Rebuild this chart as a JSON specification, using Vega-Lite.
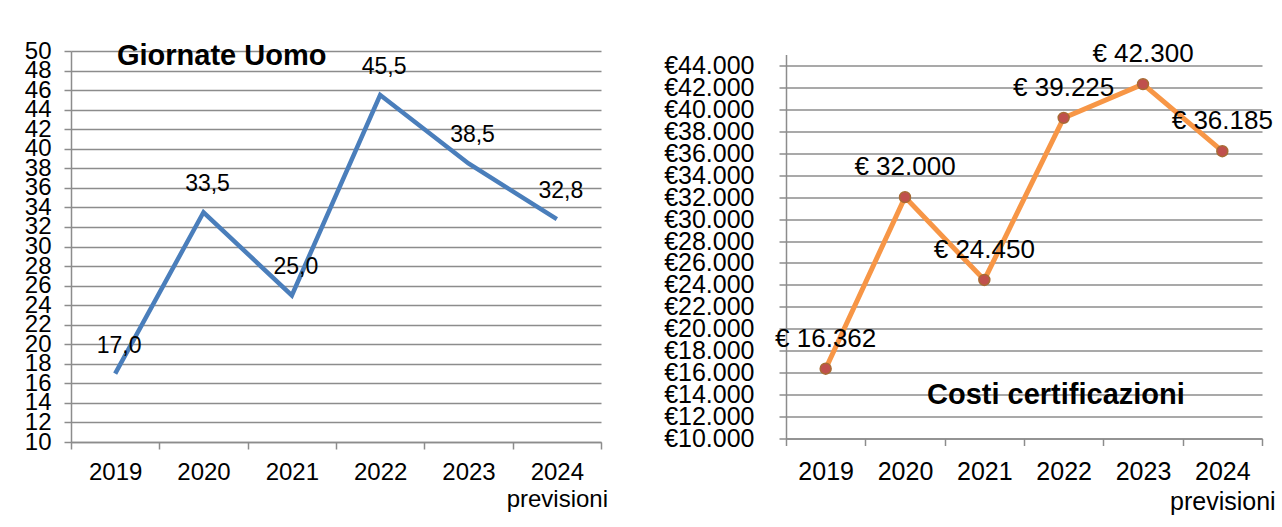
{
  "$schema": "https://vega.github.io/schema/vega-lite/v6.json",
  "padding": {"left": 24, "top": 39, "right": 5, "bottom": 5},
  "background": "white",
  "bounds": "flush",
  "center": true,
  "spacing": 185,
  "config": {
    "locale": {"number": {"decimal": ",", "thousands": ".", "grouping": [3], "currency": ["€ ", ""]}},
    "view": {"stroke": null},
    "font": "Liberation Sans",
    "axis": {
      "gridColor": "#8c8c8c", "gridWidth": 1.5,
      "domainColor": "#8c8c8c", "domainWidth": 1.5,
      "tickColor": "#8c8c8c", "tickWidth": 1.5, "tickSize": 7,
      "labelColor": "black", "labelFont": "Liberation Sans", "title": null
    }
  },
  "hconcat": [
    {
      "width": 530,
      "height": 391,
      "title": {"text": "Giornate Uomo", "orient": "none", "anchor": "start", "frame": "group", "fontSize": 29, "fontWeight": "bold", "font": "Liberation Sans", "color": "black", "baseline": "alphabetic", "offset": 0, "dx": 46, "dy": 14},
      "data": {"values": [
        {"anno": "2019", "giornate": 17.0},
        {"anno": "2020", "giornate": 33.5},
        {"anno": "2021", "giornate": 25.0},
        {"anno": "2022", "giornate": 45.5},
        {"anno": "2023", "giornate": 38.5},
        {"anno": "2024", "giornate": 32.8}
      ]},
      "encoding": {
        "x": {"field": "anno", "type": "ordinal", "sort": null,
          "scale": {"type": "band", "paddingInner": 0, "paddingOuter": 0},
          "axis": {"labelAngle": 0, "tickBand": "extent", "grid": false, "labelFontSize": 24, "labelPadding": 11, "labelLineHeight": 27, "labelBaseline": "top",
            "labelExpr": "datum.value == '2024' ? ['2024', 'previsioni'] : datum.value"}},
        "y": {"field": "giornate", "type": "quantitative",
          "scale": {"domain": [10, 50], "nice": false, "zero": false},
          "axis": {"values": [10,12,14,16,18,20,22,24,26,28,30,32,34,36,38,40,42,44,46,48,50], "format": "d", "labelFontSize": 24, "labelPadding": 13, "labelOverlap": false, "labelFlush": false, "labelBound": false, "grid": true}}
      },
      "layer": [
        {"mark": {"type": "line", "color": "#4A7EBB", "strokeWidth": 4.5}},
        {"mark": {"type": "text", "fontSize": 23, "dy": -28, "dx": 4, "color": "black", "baseline": "middle"},
          "encoding": {"text": {"field": "giornate", "type": "quantitative", "format": ".1f"}}}
      ]
    },
    {
      "width": 476,
      "height": 384,
      "title": {"text": "Costi certificazioni", "orient": "none", "anchor": "start", "frame": "group", "fontSize": 29, "fontWeight": "bold", "font": "Liberation Sans", "color": "black", "baseline": "alphabetic", "offset": 0, "dx": 141, "dy": 349},
      "data": {"values": [
        {"anno": "2019", "costo": 16362},
        {"anno": "2020", "costo": 32000},
        {"anno": "2021", "costo": 24450},
        {"anno": "2022", "costo": 39225},
        {"anno": "2023", "costo": 42300},
        {"anno": "2024", "costo": 36185}
      ]},
      "encoding": {
        "x": {"field": "anno", "type": "ordinal", "sort": null,
          "scale": {"type": "band", "paddingInner": 0, "paddingOuter": 0},
          "axis": {"labelAngle": 0, "tickBand": "extent", "grid": false, "labelFontSize": 25, "labelPadding": 14, "labelLineHeight": 30, "labelBaseline": "top",
            "labelExpr": "datum.value == '2024' ? ['2024', 'previsioni'] : datum.value"}},
        "y": {"field": "costo", "type": "quantitative",
          "scale": {"domain": [10000, 45000], "nice": false, "zero": false},
          "axis": {"values": [10000,12000,14000,16000,18000,20000,22000,24000,26000,28000,30000,32000,34000,36000,38000,40000,42000,44000], "format": "$,.0f", "labelExpr": "replace(datum.label, ' ', '')", "labelFontSize": 25, "labelPadding": 25, "labelOverlap": false, "labelFlush": false, "labelBound": false, "grid": true}}
      },
      "layer": [
        {"mark": {"type": "line", "color": "#F79646", "strokeWidth": 5}},
        {"mark": {"type": "point", "filled": true, "fill": "#C0504D", "stroke": "#A86B34", "strokeWidth": 1.5, "size": 120, "opacity": 1}},
        {"mark": {"type": "text", "fontSize": 26, "dy": -30, "color": "black", "baseline": "middle"},
          "encoding": {"text": {"field": "costo", "type": "quantitative", "format": "$,.0f"}}}
      ]
    }
  ]
}
